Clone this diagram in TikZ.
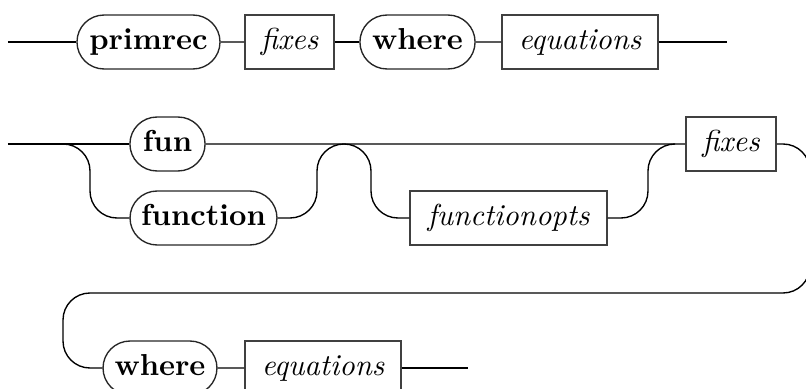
\documentclass[tikz,border=0pt]{standalone}
\usepackage{tikz}
\usetikzlibrary{
    shapes.misc,
    positioning
}

\begin{document}
\begin{tikzpicture}[
    x=0.33pt, y=-0.33pt,
    railLine/.style={
        draw=black, line width=0.45pt, rounded corners=8.9pt
    },
    kwBox/.style={
        rounded rectangle, draw=black!85, line width=0.45pt,
        font=\bfseries, inner sep=0pt,
        text height=6.9pt, text depth=1.9pt,
        minimum height=17.8pt
    },
    ntBox/.style={
        rectangle, draw=black!75, line width=0.5pt,
        font=\itshape, inner sep=0pt,
        text height=6.9pt, text depth=1.9pt,
        minimum height=17.8pt
    }
]
    \useasboundingbox (0,0) rectangle (806,389);

    % Row 1
    \coordinate (aStart) at (8,42);
    \coordinate (aEnd) at (727,42);
    \node[kwBox, minimum width=47.2pt] (kwPrimrec) at (148.5,42) {primrec};
    \node[ntBox, minimum width=29.4pt] (ntFixes) at (289.5,42) {fixes};
    \node[kwBox, minimum width=38pt] (kwWhere) at (417.5,42) {where};
    \node[ntBox, minimum width=51.5pt] (ntEquations) at (580,42) {equations};

    \draw[railLine] (aStart) -- (kwPrimrec);
    \draw[railLine] (kwPrimrec) -- (ntFixes);
    \draw[railLine] (ntFixes) -- (kwWhere);
    \draw[railLine] (kwWhere) -- (ntEquations);
    \draw[railLine] (ntEquations) -- (aEnd);

    % Row 2
    \coordinate (bStart) at (8,144);
    \coordinate (bSplit) at (63,144);
    \coordinate (bJoin) at (344,144);
    \coordinate (bOptJoin) at (675,144);
    \node[kwBox, minimum width=24.8pt] (kwFun) at (167.5,144) {fun};
    \node[kwBox, minimum width=48.5pt] (kwFunction) at (203.5,218) {function};
    \node[ntBox, minimum width=65pt] (ntFunctionopts) at (508.5,218) {functionopts};
    \node[ntBox, minimum width=29.7pt] (ntFixesB) at (731,144) {fixes};

    \draw[railLine] (bStart) -- (kwFun);
    \draw[railLine] (kwFun) -- (ntFixesB);
    \draw[railLine] (bSplit) -- (90,144) -- (90,218) -- (kwFunction);
    \draw[railLine] (kwFunction) -- (317,218) -- (317,144) -- (bJoin);
    \draw[railLine] (bJoin) -- (371,144) -- (371,218) -- (ntFunctionopts);
    \draw[railLine] (ntFunctionopts) -- (648,218) -- (648,144) -- (bOptJoin);

    % Row 3
    \coordinate (cEnd) at (468,368);
    \node[kwBox, minimum width=37.6pt] (kwWhereB) at (160,368) {where};
    \node[ntBox, minimum width=51.5pt] (ntEquationsB) at (323,368) {equations};

    \draw[railLine] (ntFixesB) -- (810,144) -- (810,293) -- (63,293) -- (63,368) -- (kwWhereB);
    \draw[railLine] (kwWhereB) -- (ntEquationsB);
    \draw[railLine] (ntEquationsB) -- (cEnd);

\end{tikzpicture}
\end{document}
